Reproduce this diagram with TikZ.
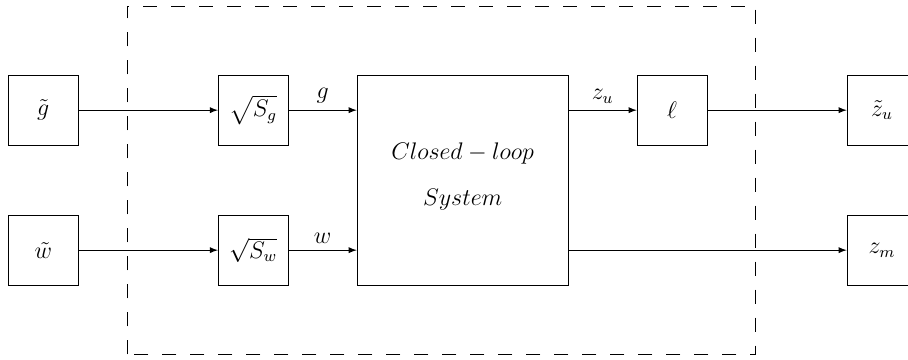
\documentclass[tikz,border=0pt]{standalone}
\usepackage{amsmath}
\usepackage{amssymb}
\usepackage{tikz}
\usetikzlibrary{arrows,positioning}

\begin{document}
\begin{tikzpicture}[
    every node/.style={font=\fontsize{11.8}{14}\selectfont},
    block/.style={rectangle, draw, minimum width=1.23cm, minimum height=1.23cm, inner sep=0pt},
    plant/.style={rectangle, draw, minimum width=3.71cm, minimum height=3.69cm},
    arrow/.style={-latex},
    frame/.style={dash pattern=on 7pt off 7pt}
]
\useasboundingbox (0,0) rectangle (15.956,6.326);

% Weighting filters inside the frame
\draw[frame] (2.24,0.10) rectangle (13.28,6.22);

% Input and output signals
\node[block] (gt) at (0.76, 4.39) {$\tilde{g}$};
\node[block] (wt) at (0.76, 1.93) {$\tilde{w}$};
\node[block] (sg) at (4.45, 4.39) {$\sqrt{S_g}$};
\node[block] (sw) at (4.45, 1.93) {$\sqrt{S_w}$};
\node[plant] (cl) at (8.13, 3.16) {};
\node[align=center] (cltext) at (8.13, 3.22) {$Closed-loop$\\[9pt]$System$};
\node[block] (ell) at (11.81, 4.39) {$\ell$};
\node[block] (zu) at (15.50, 4.39) {$\tilde{z}_u$};
\node[block] (zm) at (15.50, 1.93) {$z_m$};

% Connections
\draw[arrow] (gt) -- (sg);
\draw[arrow] (wt) -- (sw);
\draw[arrow] (sg) -- (sg -| cl.west) node[midway, above] {$g$};
\draw[arrow] (sw) -- (sw -| cl.west) node[midway, above] {$w$};
\draw[arrow] (ell -| cl.east) -- (ell) node[midway, above] {$z_u$};
\draw[arrow] (ell) -- (zu);
\draw[arrow] (zm -| cl.east) -- (zm);

\end{tikzpicture}
\end{document}
